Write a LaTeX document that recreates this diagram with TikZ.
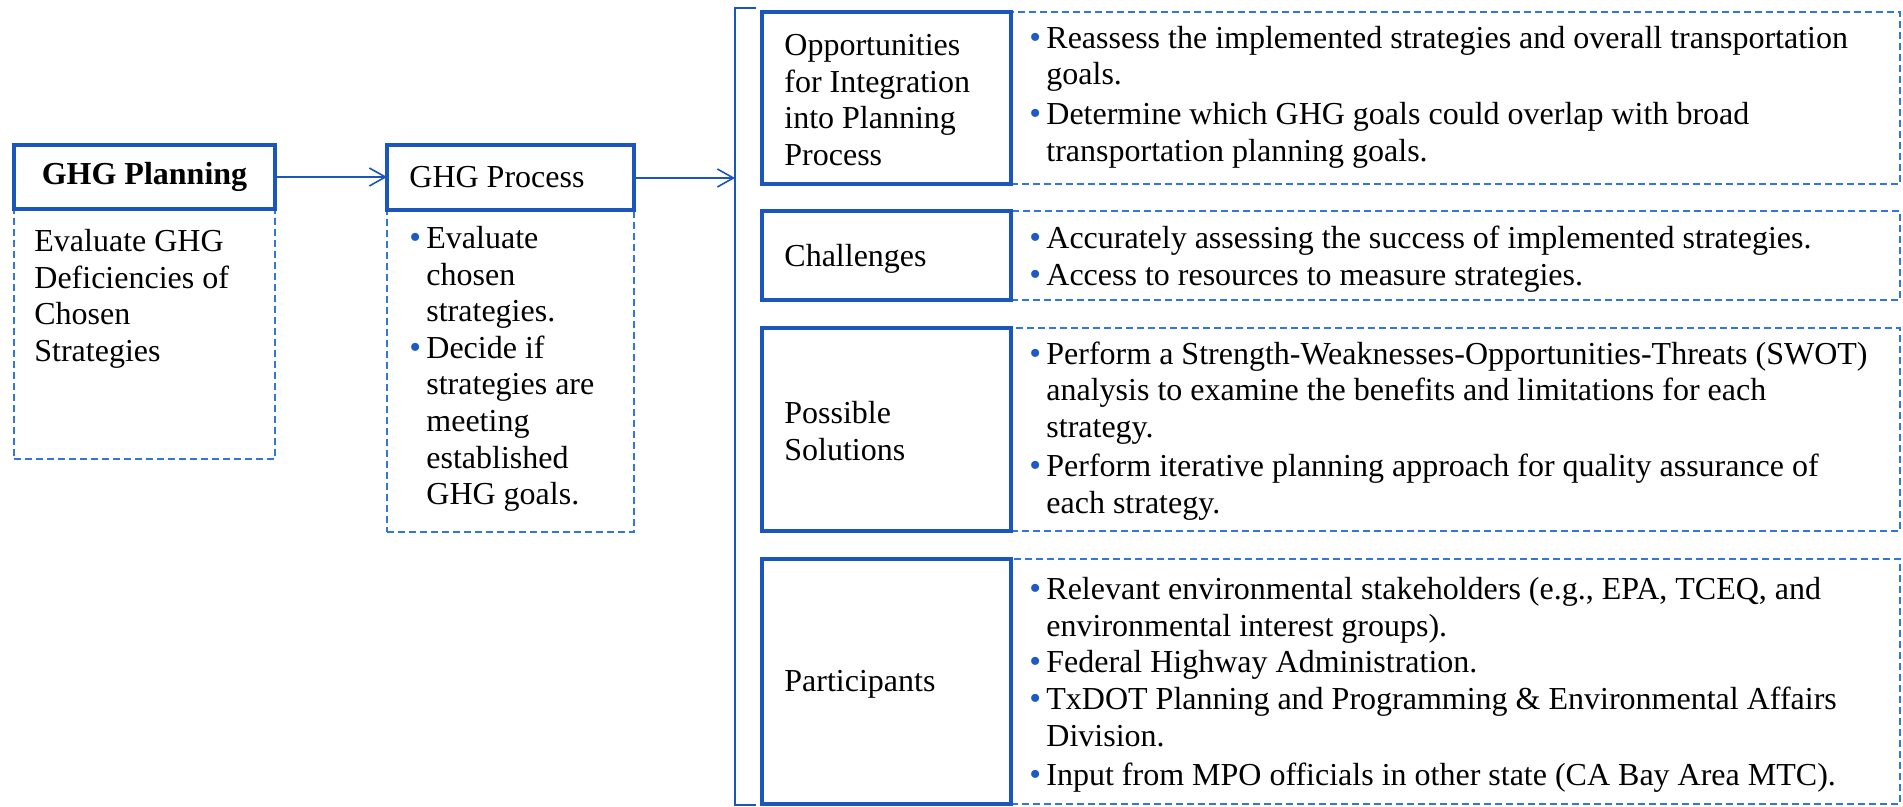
\documentclass[tikz,border=0pt]{standalone}
\usepackage{fontspec}
\setmainfont{Liberation Serif}
\usetikzlibrary{arrows.meta}
\definecolor{thickblue}{RGB}{26,86,188}
\definecolor{dashblue}{RGB}{48,118,220}
\definecolor{bulletblue}{RGB}{30,90,195}
\newcommand\bl{\makebox[8.5pt][l]{\textcolor{bulletblue}{\scalebox{1.05}{\textbullet}}}}
\newcommand\nb{\hspace*{8.5pt}}
\begin{document}
\begin{tikzpicture}[x=0.5pt,y=-0.5pt,
  tbox/.style={draw=thickblue, line width=2.3pt, inner sep=0pt, outer sep=0pt, fill=white},
  dbox/.style={draw=dashblue, line width=0.75pt, dash pattern=on 3.5pt off 2pt, inner sep=0pt, outer sep=0pt},
  txt/.style={font=\fontsize{16pt}{18.3pt}\selectfont, align=left, inner sep=0pt, anchor=west},
  conn/.style={draw=thickblue, line width=0.8pt, -{Straight Barb[length=8pt,width=9pt,line width=0.8pt]}},
  brk/.style={draw=thickblue, line width=0.8pt}]
\useasboundingbox (0,0) rectangle (1903,807);

% ---- left column
\node[dbox, minimum width=130.5pt, minimum height=125pt] (gpd) at (144.5,334) {};
\node[tbox, minimum width=130.5pt, minimum height=32pt, font=\fontsize{16pt}{18.3pt}\selectfont\bfseries] (gp) at (144.5,177) {GHG Planning};
\node[txt] (gpdt) at (34,299) {Evaluate GHG\\Deficiencies of\\Chosen\\Strategies};

\node[dbox, minimum width=123.5pt, minimum height=161pt] (gprd) at (510.5,371) {};
\node[tbox, minimum width=123.5pt, minimum height=32.5pt] (gpr) at (510.5,177.5) {};
\node[txt] (gprt) at (409,177.5) {GHG Process};
\node[txt] (gprdt) at (409,369) {\bl Evaluate\\\nb chosen\\\nb strategies.\\\bl Decide if\\\nb strategies are\\\nb meeting\\\nb established\\\nb GHG goals.};

% ---- bracket
\coordinate (brtop) at (756,8);
\coordinate (brbot) at (756,805);
\coordinate (brin) at (735,178);
\draw[brk] (brtop) -- (735,8) -- (735,805) -- (brbot);

% ---- connectors
\draw[conn] (gp.east) -- (gpr.west |- gp.east);
\draw[conn] (gpr.east |- brin) -- (brin);

% ---- right column dashed boxes
\node[dbox, minimum width=444.5pt, minimum height=86pt] (oppd) at (1455.5,98) {};
\node[dbox, minimum width=444.5pt, minimum height=44.5pt] (chald) at (1455.5,255.5) {};
\node[dbox, minimum width=444.5pt, minimum height=101.5pt] (possd) at (1455.5,429.5) {};
\node[dbox, minimum width=444.5pt, minimum height=122.5pt] (partd) at (1455.5,681.5) {};

% ---- right column thick boxes
\node[tbox, minimum width=124.5pt, minimum height=86pt] (opp) at (886.5,98) {};
\node[tbox, minimum width=124.5pt, minimum height=44.5pt] (chal) at (886.5,255.5) {};
\node[tbox, minimum width=124.5pt, minimum height=101.5pt] (poss) at (886.5,429.5) {};
\node[tbox, minimum width=124.5pt, minimum height=122.5pt] (part) at (886.5,681.5) {};

% ---- labels
\node[txt] (oppl) at (784,100) {Opportunities\\for Integration\\into Planning\\Process};
\node[txt] (chall) at (784,259) {Challenges};
\node[txt] (possl) at (784,431) {Possible\\Solutions};
\node[txt] (partl) at (784,684) {Participants};

% ---- texts
\node[txt] (oppt) at (1029,97) {\bl Reassess the implemented strategies and overall transportation\\\nb goals.\\[1.5pt]\bl Determine which GHG goals could overlap with broad\\\nb transportation planning goals.};
\node[txt] (chalt) at (1029,259) {\bl Accurately assessing the success of implemented strategies.\\\bl Access to resources to measure strategies.};
\node[txt] (posst) at (1029,431) {\bl Perform a Strength-Weaknesses-Opportunities-Threats (SWOT)\\\nb analysis to examine the benefits and limitations for each\\\nb strategy.\\[1.5pt]\bl Perform iterative planning approach for quality assurance of\\\nb each strategy.};
\node[txt] (partt) at (1029,685) {\bl Relevant environmental stakeholders (e.g., EPA, TCEQ, and\\\nb environmental interest groups).\\\bl Federal Highway Administration.\\\bl TxDOT Planning and Programming \& Environmental Affairs\\\nb Division.\\[1.5pt]\bl Input from MPO officials in other state (CA Bay Area MTC).};
\end{tikzpicture}
\end{document}
